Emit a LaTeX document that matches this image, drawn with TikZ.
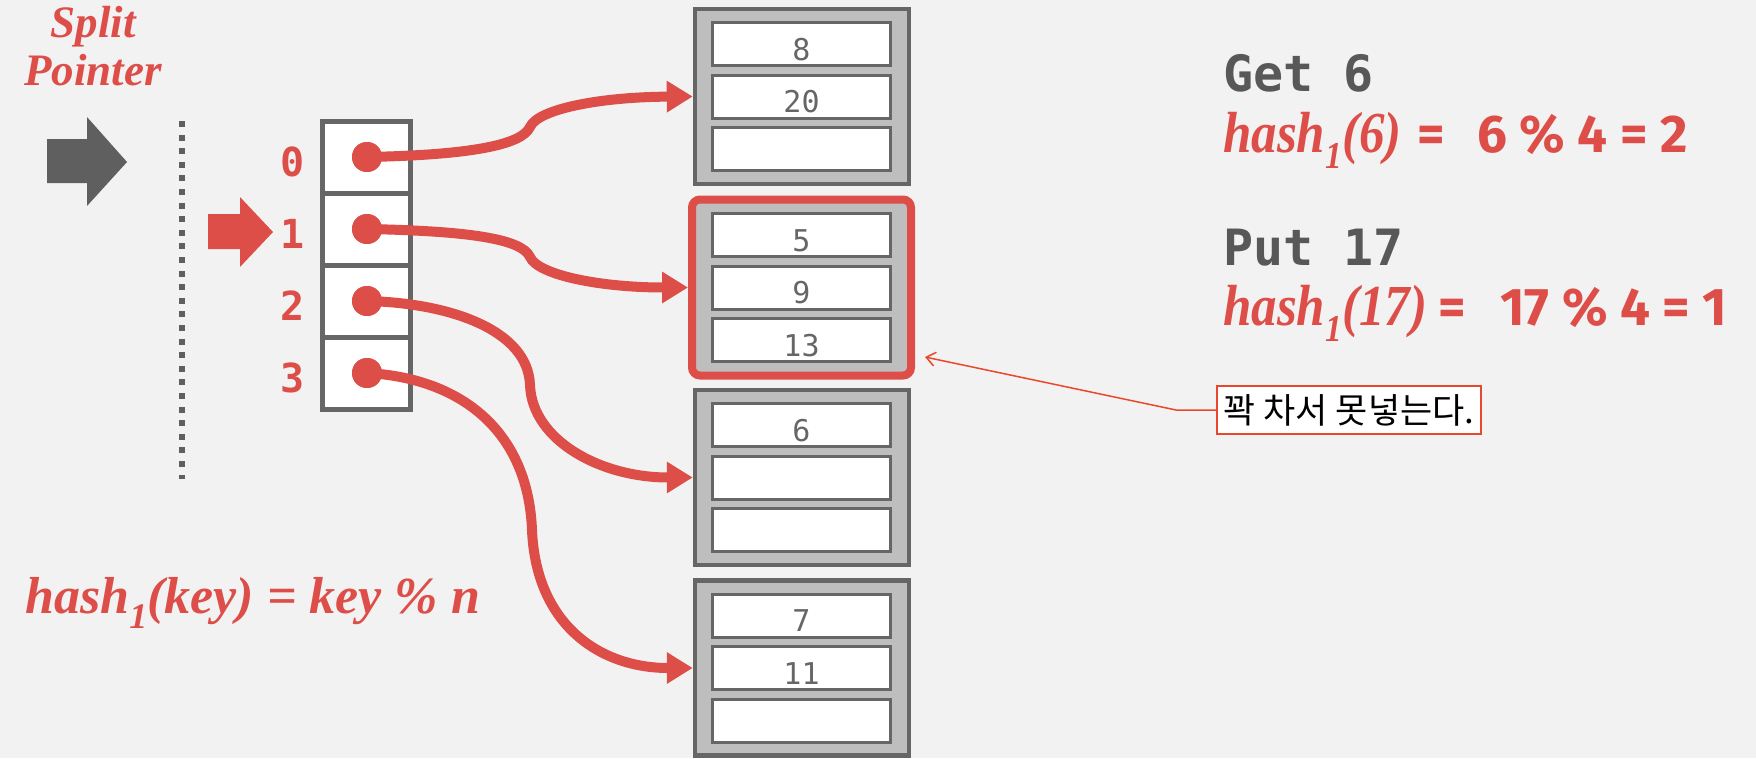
\documentclass[tikz,border=0pt]{standalone}
\usepackage{fontspec}
\usepackage{graphicx}
\setmainfont{Liberation Serif}
\newfontfamily\lserif{Liberation Serif}
\newfontfamily\lmono{DejaVu Sans Mono}
\newfontfamily\fsans{Fira Sans}
\newfontfamily\kr{Noto Sans CJK KR}
\usetikzlibrary{arrows.meta}
\newcommand\myfs[1]{\fontsize{#1}{#1}\selectfont}
\newcommand\fsansb{\fsans\bfseries\myfs{53pt}}
\newcommand\hashit[1]{{\lserif\bfseries\itshape\myfs{58pt}\scalebox{0.88}[1]{hash\raisebox{-16pt}{\myfs{38pt}1}(#1)}}}
\definecolor{bg}{HTML}{F2F2F2}
\definecolor{hred}{HTML}{DD4E49}
\definecolor{bordergray}{HTML}{666666}
\definecolor{bucketgray}{HTML}{BEBEBE}
\definecolor{textgray}{HTML}{666666}
\definecolor{textdark}{HTML}{585858}
\definecolor{arrowgray}{HTML}{5F5F5F}
\definecolor{callred}{HTML}{E9482D}
\begin{document}
\begin{tikzpicture}[x=1pt,y=-1pt,
  cellbox/.style={draw=bordergray, line width=5pt, fill=white, minimum width=88pt, minimum height=72pt, inner sep=0pt},
  bucket/.style={draw=bordergray, line width=4.5pt, fill=bucketgray, minimum width=214pt, minimum height=175pt, inner sep=0pt},
  slot/.style={draw=bordergray, line width=3pt, fill=white, minimum width=178pt, minimum height=43pt, inner sep=0pt, text height=32pt, text depth=0pt, font=\lmono\myfs{30pt}, text=textgray},
  dotnode/.style={circle, fill=hred, minimum size=30pt, inner sep=0pt},
  idx/.style={font=\lmono\bfseries\myfs{40pt}, text=hred, inner sep=0pt, anchor=base},
  ptr/.style={draw=hred, line width=10pt, -{Triangle[length=26pt,width=30pt]}},
  note/.style={draw=callred, line width=1.5pt, fill=white, minimum width=264pt, minimum height=48pt, inner sep=2pt, font=\kr\myfs{35pt}, text=black},
  txt/.style={anchor=base west, inner sep=0pt}
]
\fill[bg] (0,0) rectangle (1756,758);
\useasboundingbox (0,0) rectangle (1756,758);

% split pointer
\node[anchor=base, align=center, inner sep=0pt, text=hred, font=\lserif\bfseries\itshape\fontsize{45pt}{48pt}\selectfont] (sp) at (93,85) {Split\\Pointer};
\fill[arrowgray] (47,139) -- (87,139) -- (87,117) -- (127,162) -- (87,206) -- (87,183) -- (47,183) -- cycle;
\draw[arrowgray, line width=6pt, dash pattern=on 6pt off 7.6pt] (182,121) -- (182,479);
\fill[hred] (208,214) -- (240,214) -- (240,197) -- (273,232) -- (240,267) -- (240,249) -- (208,249) -- cycle;

% directory
\node[cellbox] (c0) at (366.5,157) {};
\node[cellbox] (c1) at (366.5,229) {};
\node[cellbox] (c2) at (366.5,301) {};
\node[cellbox] (c3) at (366.5,373) {};
\node[idx] (l0) at (293,176) {0};
\node[idx] (l1) at (293,248) {1};
\node[idx] (l2) at (293,320) {2};
\node[idx] (l3) at (293,392) {3};

% buckets
\node[bucket] (b0) at (802,96.5) {};
\node[slot] (s00) at (801.5,44) {8};
\node[slot] (s01) at (801.5,96.5) {20};
\node[slot] (s02) at (801.5,149) {};

\node[bucket, draw=hred, line width=8pt, rounded corners=8pt, minimum width=219pt, minimum height=176pt] (b1) at (801.5,287.5) {};
\node[slot] (s10) at (801.5,235) {5};
\node[slot] (s11) at (801.5,287.5) {9};
\node[slot] (s12) at (801.5,340) {13};

\node[bucket] (b2) at (802,477.5) {};
\node[slot] (s20) at (801.5,425) {6};
\node[slot] (s21) at (801.5,477.5) {};
\node[slot] (s22) at (801.5,530) {};

\node[bucket] (b3) at (802,668) {};
\node[slot] (s30) at (801.5,615.5) {7};
\node[slot] (s31) at (801.5,668) {11};
\node[slot] (s32) at (801.5,720.5) {};

% pointers
\node[dotnode] (d0) at (367,157) {};
\node[dotnode] (d1) at (367,229) {};
\node[dotnode] (d2) at (367,301) {};
\node[dotnode] (d3) at (367,373) {};
\coordinate (m0) at (530,127);
\coordinate (m1) at (530,257);
\coordinate (m2) at (530,385);
\coordinate (m3) at (532,530);
\draw[ptr] (d0.center) .. controls (470,155) and (522,145) .. (m0) .. controls (538,109) and (600,97) .. (b0.west);
\draw[ptr] (d1.center) .. controls (470,231) and (522,239) .. (m1) .. controls (538,275) and (600,287.5) .. (b1.west);
\draw[ptr] (d2.center) .. controls (450,303) and (528,330) .. (m2) .. controls (532,440) and (600,477.5) .. (b2.west);
\draw[ptr] (d3.center) .. controls (460,378) and (528,430) .. (m3) .. controls (536,625) and (600,668) .. (b3.west);
\node[dotnode] at (d0) {};
\node[dotnode] at (d1) {};
\node[dotnode] at (d2) {};
\node[dotnode] at (d3) {};

% formulas
\node[txt, text=hred, font=\lserif\bfseries\itshape\myfs{52pt}] (hk) at (25,613) {hash\raisebox{-15pt}{\myfs{36pt}1}(key) = key \% n};
\node[txt, text=textdark, font=\lmono\bfseries\myfs{50pt}] (get) at (1223,91) {Get 6};
\node[txt, text=hred] (h1) at (1223,152) {\makebox[194pt][l]{\hashit{6}}\makebox[60pt][l]{\fsansb =}{\fsansb 6 \% 4 = 2}};
\node[txt, text=textdark, font=\lmono\bfseries\myfs{50pt}] (put) at (1223,265) {Put 17};
\node[txt, text=hred] (h2) at (1223,325) {\makebox[215pt][l]{\hashit{17}}\makebox[62pt][l]{\fsansb =}{\fsansb 17 \% 4 = 1}};

% callout
\node[note] (note) at (1349,410) {꽉 차서 못넣는다.};
\coordinate (bend) at (1176,410);
\coordinate (tip) at (925,357);
\draw[callred, line width=1.5pt, -{Straight Barb[length=9pt,width=14pt]}] (note.west) -- (bend) -- (tip);
\end{tikzpicture}
\end{document}
